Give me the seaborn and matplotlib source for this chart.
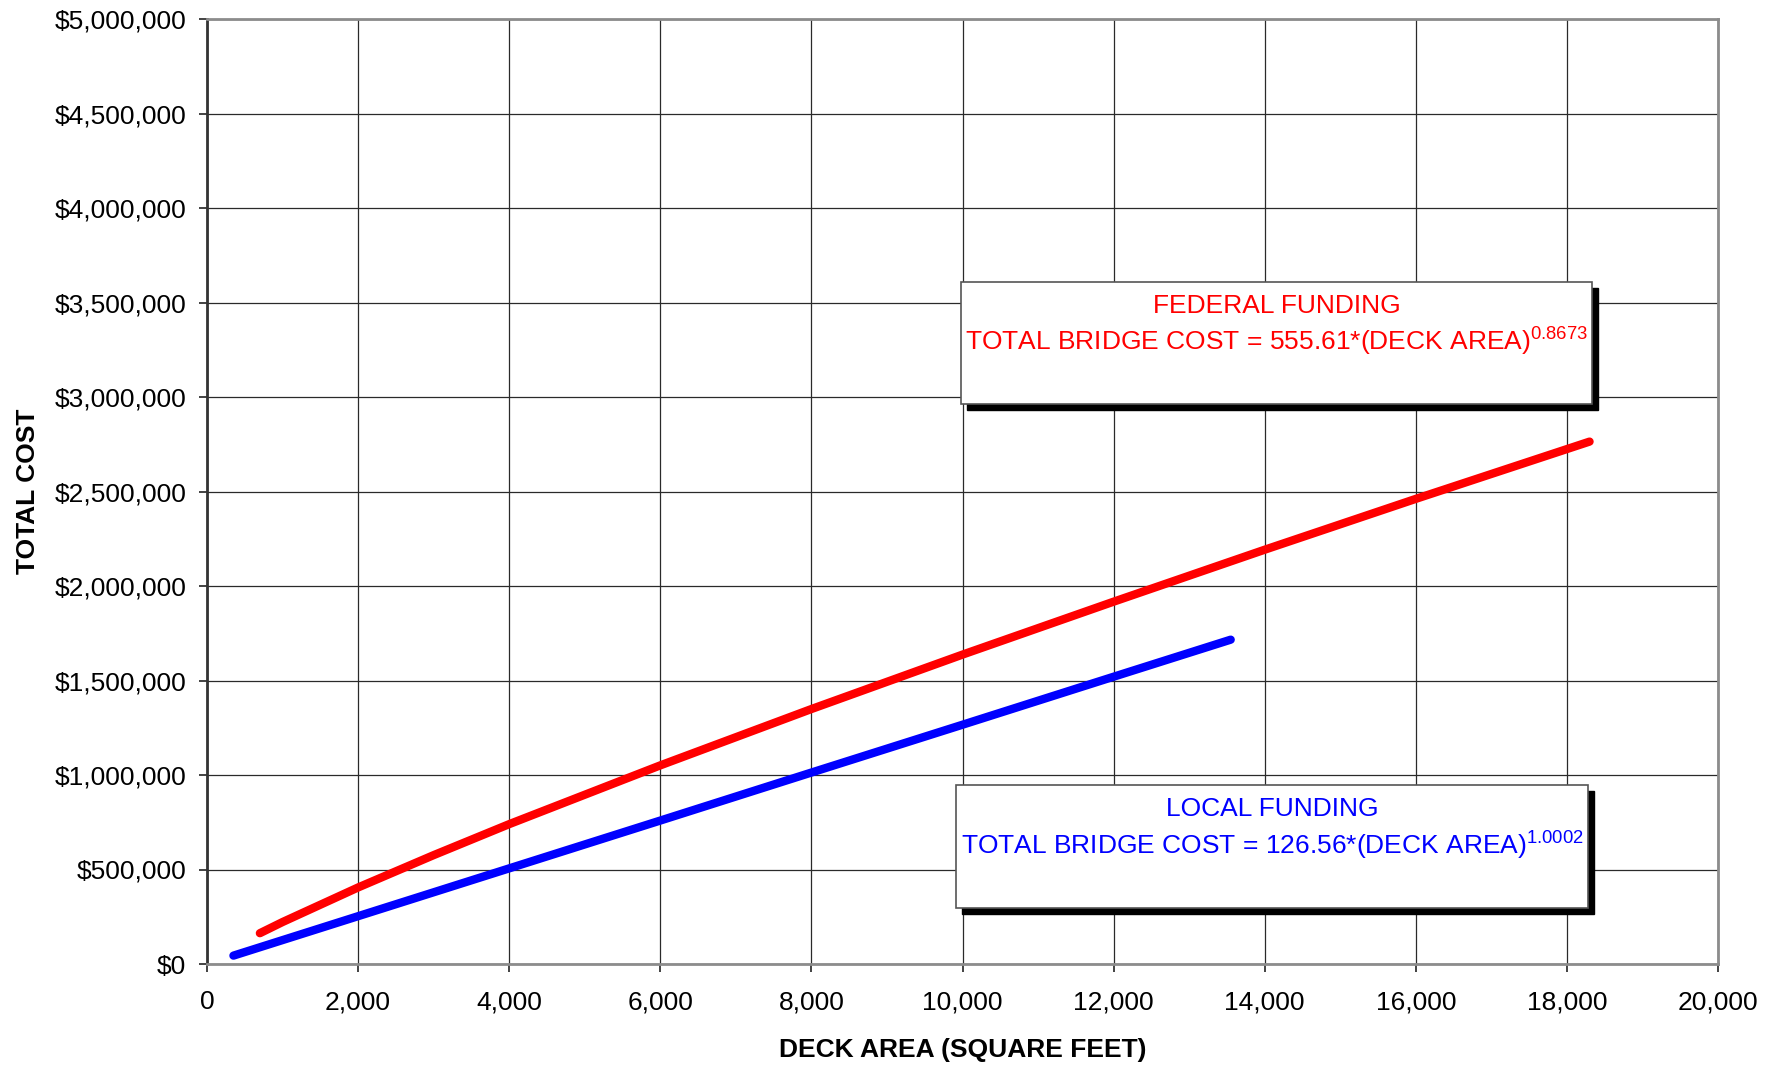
import matplotlib
matplotlib.use("Agg")
import matplotlib.pyplot as plt
import matplotlib.transforms as mtransforms
from matplotlib.patches import Rectangle
from matplotlib.ticker import FuncFormatter, MultipleLocator
import numpy as np
import pandas as pd
import seaborn as sns

# Deck area (sq ft) and total bridge cost ($) along each fitted cost curve
federal_area = [700, 1000, 2000, 3000, 4000, 6000, 8000, 10000, 12000, 14000, 16000, 18300]
federal_cost = [163000, 222000, 405000, 576000, 740000, 1051000, 1349000, 1637000,
                1917000, 2192000, 2461000, 2764000]
local_area = [350, 2000, 4000, 6000, 8000, 10000, 12000, 13550]
local_cost = [44300, 253000, 506000, 759000, 1013000, 1266000, 1520000, 1716000]

federal_title = "FEDERAL FUNDING"
federal_eq = "TOTAL BRIDGE COST = 555.61*(DECK AREA)$^{0.8673}$"
local_title = "LOCAL FUNDING"
local_eq = "TOTAL BRIDGE COST = 126.56*(DECK AREA)$^{1.0002}$"

sns.set_theme(style="white")
plt.rcParams["font.family"] = ["Liberation Sans", "DejaVu Sans"]
plt.rcParams["mathtext.fontset"] = "custom"
plt.rcParams["mathtext.rm"] = "Liberation Sans"
plt.rcParams["mathtext.it"] = "Liberation Sans"
plt.rcParams["mathtext.default"] = "regular"
plt.rcParams["text.color"] = "black"
plt.rcParams["axes.labelcolor"] = "black"

df = pd.concat([
    pd.DataFrame({"area": federal_area, "cost": federal_cost, "program": "Federal"}),
    pd.DataFrame({"area": local_area, "cost": local_cost, "program": "Local"}),
])

fig = plt.figure(figsize=(17.82, 10.65), dpi=100)
ax = fig.add_axes([207 / 1782, 1 - 964 / 1065, 1511 / 1782, 945 / 1065])

sns.lineplot(data=df, x="area", y="cost", hue="program", sort=False,
             palette={"Federal": "#ff0000", "Local": "#0000ff"},
             linewidth=6, legend=False, ax=ax, zorder=3)
for ln in ax.get_lines():
    ln.set_solid_capstyle("round")

ax.set_xlim(0, 20000)
ax.set_ylim(0, 5000000)
ax.xaxis.set_major_locator(MultipleLocator(2000))
ax.yaxis.set_major_locator(MultipleLocator(500000))
ax.xaxis.set_major_formatter(FuncFormatter(lambda v, p: f"{v:,.0f}"))
ax.yaxis.set_major_formatter(FuncFormatter(lambda v, p: f"${v:,.0f}"))

ax.grid(True, color="#2a2a2a", linewidth=0.9)
ax.set_axisbelow(True)
for side in ["top", "right", "bottom"]:
    ax.spines[side].set_color("#8c8c8c")
    ax.spines[side].set_linewidth(2)
ax.spines["left"].set_color("#333333")
ax.spines["left"].set_linewidth(2)

ax.tick_params(axis="both", which="major", direction="out", length=6, width=1.2,
               color="#222222", labelsize=19, labelcolor="black",
               bottom=True, left=True)
ax.tick_params(axis="x", pad=13)
ax.tick_params(axis="y", pad=9)

ax.set_xlabel("DECK AREA (SQUARE FEET)", fontsize=19, fontweight="bold", labelpad=17)
ax.set_ylabel("TOTAL COST", fontsize=19, fontweight="bold", labelpad=10)

shadow_tf = mtransforms.offset_copy(ax.transData, fig=fig, x=6, y=-6, units="dots")


def equation_box(x0, y0, x1, y1, title, eq, color, title_y, eq_y):
    ax.add_patch(Rectangle((x0, y0), x1 - x0, y1 - y0, transform=shadow_tf,
                           facecolor="black", edgecolor="black", zorder=5))
    ax.add_patch(Rectangle((x0, y0), x1 - x0, y1 - y0, facecolor="white",
                           edgecolor="#555555", linewidth=1.2, zorder=6))
    xc = (x0 + x1) / 2
    ax.text(xc, title_y, title, color=color, fontsize=19, ha="center",
            va="baseline", zorder=7)
    ax.text(xc, eq_y, eq, color=color, fontsize=19, ha="center",
            va="baseline", zorder=7)


equation_box(9980, 2963000, 18332, 3608000, federal_title, federal_eq, "#ff0000",
             3444000, 3243000)
equation_box(9914, 296000, 18279, 947000, local_title, local_eq, "#0000ff",
             783000, 577000)

fig.savefig("out.png", dpi=100)
